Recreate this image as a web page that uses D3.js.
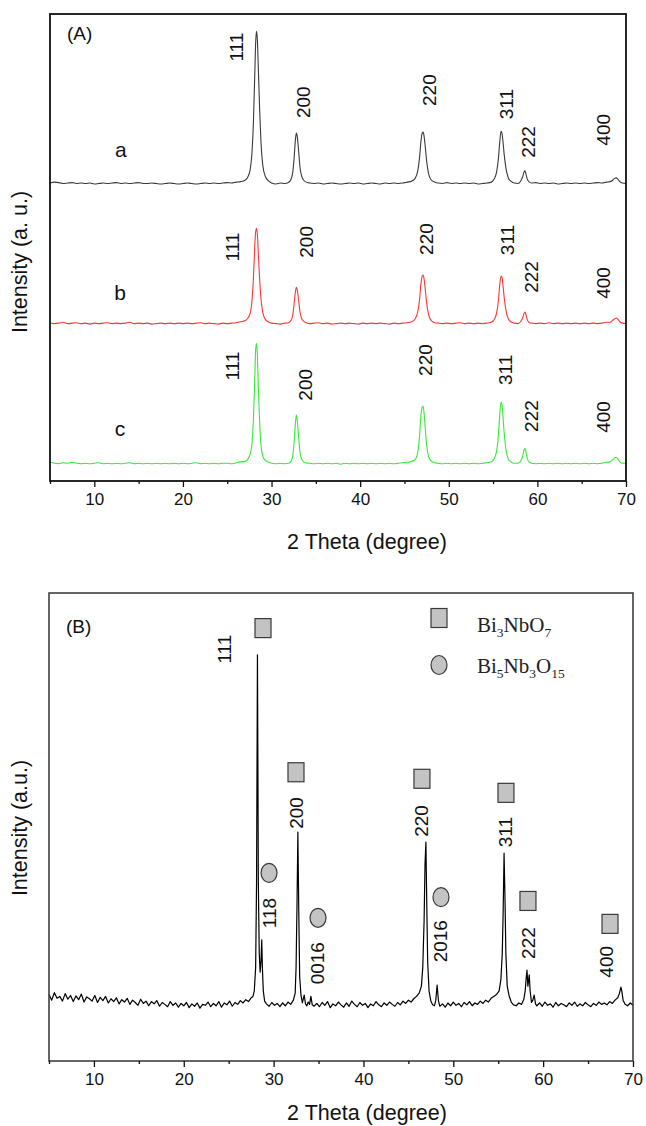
<!DOCTYPE html>
<html>
<head>
<meta charset="utf-8">
<script src="https://cdn.jsdelivr.net/npm/d3@7"></script>
<style>
  body { margin: 0; background: #fff; }
  svg { display: block; }
</style>
</head>
<body>
<svg id="chart" width="646" height="1126"></svg>
<script>
// ---------- Panel (A): XRD patterns of samples a, b, c ----------
const thetaA = [
  5.0,5.5,6.0,6.5,7.0,7.5,8.0,8.5,9.0,9.5, 10.0,10.5,11.0,11.5,12.0,12.5,13.0,13.5,14.0,14.5,
  15.0,15.5,16.0,16.5,17.0,17.5,18.0,18.5,19.0,19.5, 20.0,20.5,21.0,21.5,22.0,22.5,23.0,23.5,24.0,24.5,
  25.0,25.5,26.0,26.5,
  27.0,27.3,27.6,27.8,27.95,28.1,28.2,28.3,28.4,28.5,28.65,28.8,29.0,29.3,29.7,
  30.0,30.5,31.0,31.5,31.9,
  32.2,32.4,32.55,32.7,32.8,32.9,33.05,33.2,33.45,33.8,
  34.3,34.8,35.3,35.8,36.3,36.8,37.3,37.8,38.3,38.8, 39.3,39.8,40.3,40.8,41.3,41.8,42.3,42.8,43.3,43.8,
  44.3,44.8,45.3,45.8,
  46.2,46.5,46.7,46.85,47.0,47.1,47.2,47.35,47.5,47.7,48.0,48.4,
  48.8,49.3,49.8,50.3,50.8,51.3,51.8,52.3,52.8,53.3,53.8,54.3,54.8,
  55.1,55.4,55.6,55.75,55.9,56.0,56.1,56.25,56.45,56.7,57.0,
  57.4,57.8,58.1,
  58.35,58.5,58.6,58.7,58.85,59.1,
  59.4,59.8,60.3,60.8,61.3,61.8,62.3,62.8,63.3,63.8, 64.3,64.8,65.3,65.8,66.3,66.8,67.3,67.8,68.2,
  68.5,68.7,68.9,69.1,69.3,69.6,70.0
];
const intensityA = [
  38,40,39,37,38,39,37,38,37,38, 36,37,38,37,38,39,37,38,37,38,
  39,37,37,38,37,36,37,38,37,36, 37,38,37,36,37,38,37,38,37,38,
  39,38,40,41,
  44,50,68,105,165,265,335,363,345,290,200,128,78,52,42,
  38,36,38,37,39,
  46,62,92,132,145,138,108,74,50,41,
  38,37,38,36,37,38,37,36,37,38, 37,38,36,37,38,37,36,38,37,38,
  37,38,40,42,
  48,64,92,125,145,147,140,115,86,60,45,40,
  38,37,39,37,38,37,38,37,38,36,37,38,40,
  46,62,90,125,149,145,130,100,70,50,42,
  38,37,42,
  52,62,64,58,47,40,
  38,39,37,38,37,38,36,37,38,37, 38,37,38,37,38,39,38,40,41,
  44,48,49,46,41,38,37
];
const intensityB = [
  39,37,38,40,37,38,39,37,38,36, 38,37,38,39,37,38,37,38,40,37,
  38,37,38,36,37,38,37,38,37,38, 37,38,37,38,39,37,38,37,36,38,
  37,38,39,41,
  43,48,60,88,132,200,232,241,228,190,135,92,62,46,40,
  38,37,36,38,39,
  44,56,80,106,115,110,88,64,46,40,
  37,38,39,37,38,36,37,38,37,38, 37,36,38,37,38,37,38,37,36,38,
  37,38,39,41,
  47,62,88,120,139,141,134,110,82,58,44,39,
  38,37,38,37,38,39,37,38,37,38,37,38,40,
  45,60,86,120,139,136,122,94,66,48,41,
  38,37,41,
  50,59,62,57,46,39,
  38,37,38,37,39,37,38,37,38,37, 38,37,38,37,38,37,38,40,40,
  44,47,49,46,41,38,37
];
const intensityC = [
  40,38,37,39,38,40,38,37,38,37, 38,39,37,38,37,38,37,38,39,37,
  38,37,38,37,38,37,38,37,38,37, 38,37,38,39,37,38,37,38,37,38,
  38,37,39,41,
  42,46,58,82,130,215,278,295,270,205,130,80,54,44,40,
  38,37,38,37,38,
  42,55,84,125,141,130,96,64,45,39,
  38,37,38,37,38,37,38,36,38,37, 38,37,38,37,38,37,38,37,38,37,
  38,39,40,42,
  46,62,95,138,158,160,148,112,78,54,43,39,
  38,37,38,37,38,37,38,37,38,37,38,39,41,
  47,64,98,142,169,164,142,104,68,48,41,
  38,38,42,
  54,67,70,63,49,40,
  38,37,38,37,38,37,38,37,38,37, 38,37,38,37,38,37,38,40,41,
  45,50,51,47,41,38,38
];
const sampleNames = ["a", "b", "c"];
const sampleOffsets = [600, 300, 0];
const reflectionsA = ["111", "200", "220", "311", "222", "400"];

// ---------- Panel (B): XRD pattern with two phases ----------
const thetaB = [
  5.0,5.3,5.6,5.9,6.2,6.5,6.8,7.1,7.4,7.7, 8.0,8.3,8.6,8.9,9.2,9.5,9.8,10.1,10.4,10.7,
  11.0,11.3,11.6,11.9,12.2,12.5,12.8,13.1,13.4,13.7, 14.0,14.3,14.6,14.9,15.2,15.5,15.8,16.1,16.4,16.7,
  17.0,17.3,17.6,17.9,18.2,18.5,18.8,19.1,19.4,19.7, 20.0,20.3,20.6,20.9,21.2,21.5,21.8,22.1,22.4,22.7,
  23.0,23.3,23.6,23.9,24.2,24.5,24.8,25.1,25.4,25.7, 26.0,26.3,26.6,26.9,27.2,27.5,
  27.7,27.85,28.0,28.1,28.15,28.2,28.25,28.3,28.4,28.5,28.6,28.68,28.75,28.85,29.0,29.2,
  29.5,29.8,30.1,30.4,30.7,31.0,31.3,31.6,31.9,32.2,
  32.4,32.5,32.6,32.7,32.8,32.9,33.05,33.2,
  33.4,33.55,33.7,33.85,34.0,34.15,34.3,34.5,
  34.8,35.1,35.4,35.7,36.0,36.3,36.6,36.9,37.2,37.5, 37.8,38.1,38.4,38.7,39.0,39.3,39.6,39.9,40.2,40.5,
  40.8,41.1,41.4,41.7,42.0,42.3,42.6,42.9,43.2,43.5, 43.8,44.1,44.4,44.7,45.0,45.3,45.6,45.9,
  46.2,46.45,46.6,46.75,46.85,46.95,47.05,47.15,47.3,47.5,47.7,
  47.9,48.05,48.2,48.35,48.5,
  48.8,49.1,49.4,49.7,50.0,50.3,50.6,50.9,51.2,51.5, 51.8,52.1,52.4,52.7,53.0,53.3,53.6,53.9,54.2,54.5,
  54.8,55.1,55.3,55.45,55.55,55.65,55.75,55.85,56.0,56.2,56.45,56.7,
  57.0,57.3,57.6,57.85,
  58.0,58.1,58.2,58.3,58.45,58.55,58.7,58.85,59.0,59.15,59.3,
  59.6,59.9,60.2,60.5,60.8,61.1,61.4,61.7,62.0,62.3, 62.6,62.9,63.2,63.5,63.8,64.1,64.4,64.7,65.0,65.3,
  65.6,65.9,66.2,66.5,66.8,67.1,67.4,67.7,68.0,
  68.3,68.5,68.65,68.75,68.9,69.1,69.4,69.7,70.0
];
const countsB = [
  142,130,146,134,138,128,144,132,140,127, 139,131,143,126,137,133,128,140,125,136,
  129,138,124,133,127,135,122,131,126,134, 121,130,125,119,132,123,128,118,127,122,
  129,117,125,121,116,127,119,124,115,123, 118,125,114,122,117,124,113,121,119,126,
  116,123,118,127,115,124,120,128,117,125, 121,129,124,131,127,135,
  138,150,200,380,620,868,640,380,230,190,215,259,200,150,128,122,
  117,125,119,123,116,124,118,126,121,130,
  145,200,330,489,320,180,140,124,
  141,122,118,126,121,138,120,117,
  123,116,125,119,127,114,122,118,126,120, 115,124,117,128,121,116,125,119,123,114,
  122,118,127,120,116,124,119,126,121,117, 125,120,128,123,130,126,133,138,
  145,160,200,300,420,468,330,210,150,128,120,
  118,130,162,128,117,
  122,115,124,118,126,119,123,116,125,120, 127,118,124,121,128,123,130,126,134,138,
  142,150,175,230,320,444,350,230,160,140,126,120,
  118,124,121,132,
  150,175,194,160,184,150,125,130,141,122,118,
  124,117,126,119,122,115,125,118,123,120, 116,124,119,126,117,122,118,125,120,116,
  123,119,126,121,124,120,127,123,130,
  135,145,158,150,130,122,118,124,119
];
const reflectionsB = ["111", "118", "200", "0016", "220", "2016", "311", "222", "400"];
const phaseOfReflection = [0, 1, 0, 1, 0, 1, 0, 0, 0];
const phaseNames = [["Bi", "3", "NbO", "7"], ["Bi", "5", "Nb", "3", "O", "15"]];

const xTicks = [5, 10, 15, 20, 25, 30, 35, 40, 45, 50, 55, 60, 65, 70];
const xTickLabels = ["", "10", "", "20", "", "30", "", "40", "", "50", "", "60", "", "70"];

// ---------- layout ----------
const SANS = '"Liberation Sans", Arial, sans-serif';
const SERIF = '"Liberation Serif", "Times New Roman", serif';
const svg = d3.select("#chart");

const panelA = { left: 50, right: 626, top: 14, bottom: 481 };
const panelB = { left: 49, right: 633, top: 593, bottom: 1061 };

const xA = d3.scaleLinear().domain([5, 70]).range([panelA.left, panelA.right]);
const yA = d3.scaleLinear().domain([0, 1000]).range([panelA.bottom, panelA.top]);
const xB = d3.scaleLinear().domain([5, 70]).range([panelB.left, panelB.right]);
const yB = d3.scaleLinear().domain([0, 1000]).range([panelB.bottom, panelB.top]);

// where the hkl tags sit for each sample (2θ, level above the sample offset)
const tagPlaceA = [
  { theta: [26.0, 33.66, 47.88, 56.57, 59.05, 67.5], level: [329, 211, 237, 207, 126, 152], name: [13.0, 109] },
  { theta: [25.65, 34.0, 47.54, 56.68, 59.28, 67.5], level: [201, 212, 218, 216, 137, 124], name: [12.9, 103] },
  { theta: [25.65, 33.8, 47.4, 56.4, 59.3, 67.5], level: [246, 206, 259, 238, 139, 137], name: [12.9, 113] }
];
// where the phase symbols and hkl tags sit in panel B
const symbolPlaceB = { theta: [28.82, 29.49, 32.49, 34.94, 46.51, 48.63, 55.86, 58.31, 67.44],
                       level: [925, 402, 617, 306, 603, 350, 573, 342, 293] };
const tagPlaceB = { theta: [24.48, 29.49, 32.6, 34.94, 46.51, 48.63, 55.86, 58.42, 67.0],
                    level: [880, 316, 530, 209, 513, 256, 489, 252, 212] };

const curveColors = ["#3a3a3a", "#ff3535", "#38e838"];
const symbolFill = "#c3c3c3", symbolStroke = "#3a3a3a";

function frame(p, stroke, width) {
  svg.append("rect")
    .attr("x", p.left).attr("y", p.top)
    .attr("width", p.right - p.left).attr("height", p.bottom - p.top)
    .attr("fill", "none").attr("stroke", stroke).attr("stroke-width", width);
}

function xAxis(x, p) {
  const g = svg.append("g")
    .attr("transform", `translate(0,${p.bottom})`)
    .call(d3.axisBottom(x).tickValues(xTicks).tickSize(6).tickPadding(6)
      .tickFormat((d, i) => xTickLabels[i]));
  g.select(".domain").remove();
  g.selectAll(".tick line")
    .attr("y2", (d, i) => xTickLabels[i] ? 6 : 3)
    .attr("stroke", "#111").attr("stroke-width", 1.3);
  g.selectAll(".tick text")
    .attr("font-family", SANS).attr("font-size", 17).attr("fill", "#111");
}

function rotatedText(x, y, txt, size) {
  svg.append("text")
    .attr("transform", `translate(${x},${y}) rotate(-90)`)
    .attr("text-anchor", "middle").attr("dominant-baseline", "central")
    .attr("font-family", SANS).attr("font-size", size).attr("fill", "#111")
    .text(txt);
}

// ---------- Panel A ----------
const spectraA = [intensityA, intensityB, intensityC];
spectraA.forEach((vals, k) => {
  const pts = d3.zip(thetaA, vals);
  const line = d3.line()
    .x(d => xA(d[0]))
    .y(d => yA(d[1] + sampleOffsets[k]))
    .curve(d3.curveMonotoneX);
  svg.append("path").datum(pts)
    .attr("d", line).attr("fill", "none")
    .attr("stroke", curveColors[k]).attr("stroke-width", 1.1);

  const place = tagPlaceA[k];
  reflectionsA.forEach((hkl, j) => {
    rotatedText(xA(place.theta[j]), yA(place.level[j] + sampleOffsets[k]), hkl, 19);
  });
  svg.append("text")
    .attr("x", xA(place.name[0])).attr("y", yA(place.name[1] + sampleOffsets[k]))
    .attr("text-anchor", "middle").attr("dominant-baseline", "central")
    .attr("font-family", SANS).attr("font-size", 21).attr("fill", "#111")
    .text(sampleNames[k]);
});

frame(panelA, "#111", 1.8);
xAxis(xA, panelA);
svg.append("text").attr("x", panelA.left + 17).attr("y", panelA.top + 26)
  .attr("font-family", SANS).attr("font-size", 19).attr("fill", "#111").text("(A)");
svg.append("text").attr("x", 367).attr("y", 549)
  .attr("text-anchor", "middle").attr("font-family", SANS).attr("font-size", 21.5)
  .attr("fill", "#111").text("2 Theta (degree)");
rotatedText(20, 262, "Intensity (a. u.)", 21.5);

// ---------- Panel B ----------
const lineB = d3.line().x(d => xB(d[0])).y(d => yB(d[1]));
svg.append("path").datum(d3.zip(thetaB, countsB))
  .attr("d", lineB).attr("fill", "none")
  .attr("stroke", "#000").attr("stroke-width", 1.2).attr("stroke-linejoin", "round");

function phaseSymbol(phase, cx, cy) {
  if (phase === 0) {
    svg.append("rect").attr("x", cx - 8).attr("y", cy - 9.5)
      .attr("width", 16).attr("height", 19)
      .attr("fill", symbolFill).attr("stroke", symbolStroke).attr("stroke-width", 1.2);
  } else {
    svg.append("ellipse").attr("cx", cx).attr("cy", cy).attr("rx", 8).attr("ry", 9.5)
      .attr("fill", symbolFill).attr("stroke", symbolStroke).attr("stroke-width", 1.2);
  }
}

reflectionsB.forEach((hkl, j) => {
  phaseSymbol(phaseOfReflection[j], xB(symbolPlaceB.theta[j]), yB(symbolPlaceB.level[j]));
  rotatedText(xB(tagPlaceB.theta[j]), yB(tagPlaceB.level[j]), hkl, 19);
});

// legend
const legX = panelB.left + 390, legY = panelB.top + 25;
const legTextY = [legY + 14, legY + 55];
phaseNames.forEach((parts, k) => {
  phaseSymbol(k, legX, legY + k * 47);
  const t = svg.append("text").attr("x", legX + 38).attr("y", legTextY[k])
    .attr("font-family", SERIF).attr("font-size", 21).attr("fill", "#222");
  parts.forEach((s, i) => {
    const sub = i % 2 === 1;
    t.append("tspan")
      .attr("font-size", sub ? 13.5 : 21)
      .attr("dy", i === 0 ? 0 : (sub ? 5 : -5))
      .text(s);
  });
});

frame(panelB, "#333", 1.5);
xAxis(xB, panelB);
svg.append("text").attr("x", panelB.left + 17).attr("y", panelB.top + 40)
  .attr("font-family", SANS).attr("font-size", 19).attr("fill", "#111").text("(B)");
svg.append("text").attr("x", 367).attr("y", 1120)
  .attr("text-anchor", "middle").attr("font-family", SANS).attr("font-size", 21.5)
  .attr("fill", "#111").text("2 Theta (degree)");
rotatedText(20, 828, "Intensity (a.u.)", 21.5);
</script>
</body>
</html>
